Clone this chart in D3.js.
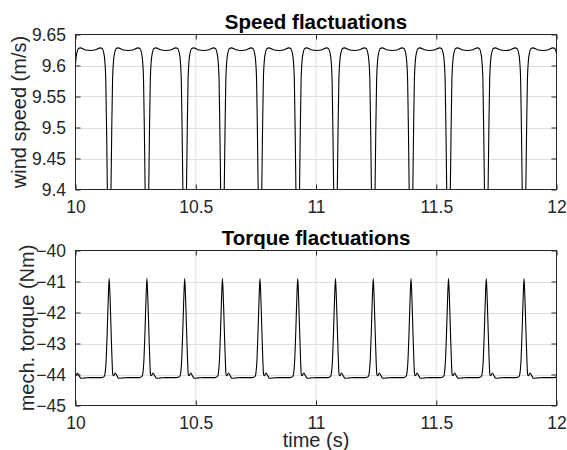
<!DOCTYPE html>
<html>
<head>
  <meta charset="UTF-8">
  <style>
body {
    margin: 0;
    background: #fff;
}
svg text {
    font-family: "Liberation Sans", Arial, sans-serif;
    fill: #262626;
}
.grid line {
    stroke: #dedede;
    stroke-width: 1;
}
.box {
    fill: none;
    stroke: #262626;
    stroke-width: 1;
}
  </style>
</head>
<body>
<svg id="chart"></svg>

<script src="https://d3js.org/d3.v7.min.js"></script>
<script>

// tick labels
const xTicks = [10, 10.5, 11, 11.5, 12];
const speedTicks = [9.4, 9.45, 9.5, 9.55, 9.6, 9.65];
const torqueTicks = [-45, -44, -43, -42, -41, -40];

// times of the dips / spikes (s)
const pulseTimes = [9.983, 10.140, 10.297, 10.454, 10.611, 10.767, 10.924,
                    11.081, 11.238, 11.395, 11.551, 11.708, 11.865, 12.022];

// one period of wind speed around a dip: [offset (s), m/s]
const speedPulse = [
  [-0.078, 9.6242], [-0.055, 9.6255], [-0.037, 9.6285], [-0.029, 9.6275],
  [-0.023, 9.621], [-0.018, 9.607], [-0.014, 9.575], [-0.0105, 9.49],
  [-0.0065, 9.37], [0, 9.25],
  [0.0065, 9.37], [0.0105, 9.49], [0.014, 9.575], [0.018, 9.607],
  [0.023, 9.621], [0.029, 9.6275], [0.037, 9.6285], [0.055, 9.6255]
];

// one period of mech. torque around a spike: [offset (s), Nm]
const torquePulse = [
  [-0.078, -44.10], [-0.032, -44.10], [-0.021, -44.07], [-0.016, -43.9],
  [-0.012, -43.45], [-0.008, -42.6], [-0.004, -41.6], [0, -40.9],
  [0.004, -41.6], [0.008, -42.6], [0.012, -43.55], [0.015, -44.0],
  [0.019, -44.04], [0.025, -43.95], [0.032, -44.04], [0.040, -44.12],
  [0.058, -44.11]
];

function buildSeries(pulse) {
  let pts = [];
  pulseTimes.forEach(t => {
    pulse.forEach(p => pts.push([t + p[0], p[1]]));
  });
  return pts;
}

const speedData = buildSeries(speedPulse);
const torqueData = buildSeries(torquePulse);

let width = 567, height = 450;
let svg = d3.select("#chart")
    .attr("width", width)
    .attr("height", height);

let x = d3.scaleLinear().domain([10, 12]).range([75.5, 556.5]);

function panel(opts) {
  let y = d3.scaleLinear().domain(opts.domain).range([opts.bottom, opts.top]);
  let g = svg.append("g");
  let id = "clip" + opts.name;

  g.append("clipPath").attr("id", id)
    .append("rect")
      .attr("x", x.range()[0]).attr("y", opts.top)
      .attr("width", x.range()[1] - x.range()[0])
      .attr("height", opts.bottom - opts.top);

  // grid
  let grid = g.append("g").attr("class", "grid");
  grid.selectAll(".gx").data(xTicks.slice(1, -1)).enter().append("line")
    .attr("x1", d => x(d)).attr("x2", d => x(d))
    .attr("y1", opts.top).attr("y2", opts.bottom);
  grid.selectAll(".gy").data(opts.ticks.slice(1, -1)).enter().append("line")
    .attr("x1", x.range()[0]).attr("x2", x.range()[1])
    .attr("y1", d => Math.round(y(d)) + 0.5).attr("y2", d => Math.round(y(d)) + 0.5);

  // signal
  g.append("path")
    .datum(opts.data)
    .attr("clip-path", "url(#" + id + ")")
    .attr("fill", "none")
    .attr("stroke", "#000")
    .attr("stroke-width", 1.1)
    .attr("d", d3.line().x(d => x(d[0])).y(d => y(d[1])).curve(d3.curveMonotoneX));

  // axes, ticks inside on all sides
  let tk = 5;
  let bottomAxis = d3.axisBottom(x).tickValues(xTicks).tickSizeInner(-tk).tickSizeOuter(0).tickFormat(d3.format("~g"));
  let topAxis = d3.axisTop(x).tickValues(xTicks).tickSizeInner(-tk).tickSizeOuter(0).tickFormat("");
  let leftAxis = d3.axisLeft(y).tickValues(opts.ticks).tickSizeInner(-tk).tickSizeOuter(0).tickFormat(d3.format("~g"));
  let rightAxis = d3.axisRight(y).tickValues(opts.ticks).tickSizeInner(-tk).tickSizeOuter(0).tickFormat("");

  let ab = g.append("g").attr("transform", "translate(0," + opts.bottom + ")").call(bottomAxis);
  let at = g.append("g").attr("transform", "translate(0," + opts.top + ")").call(topAxis);
  let al = g.append("g").attr("transform", "translate(" + x.range()[0] + ",0)").call(leftAxis);
  let ar = g.append("g").attr("transform", "translate(" + x.range()[1] + ",0)").call(rightAxis);

  [ab, at, al, ar].forEach(a => {
    a.select(".domain").remove();
    a.selectAll("line").attr("stroke", "#262626");
    a.selectAll("text").attr("fill", "#262626")
      .style("font-size", "17.5px")
      .style("font-family", "'Liberation Sans', Arial, sans-serif");
  });
  ab.selectAll("text").attr("dy", null).attr("y", 23);
  al.selectAll("text").attr("x", -9.5).attr("dy", "0.36em");

  g.append("rect").attr("class", "box")
    .attr("x", x.range()[0]).attr("y", opts.top)
    .attr("width", x.range()[1] - x.range()[0])
    .attr("height", opts.bottom - opts.top);

  // title
  g.append("text")
    .attr("x", (x.range()[0] + x.range()[1]) / 2)
    .attr("y", opts.top - 5.5)
    .attr("text-anchor", "middle")
    .style("font-weight", "bold")
    .style("font-size", "20.5px")
    .style("fill", "#000")
    .text(opts.title);

  // y label
  g.append("text")
    .attr("transform", "translate(" + opts.labelX + "," + ((opts.top + opts.bottom) / 2) + ") rotate(-90)")
    .attr("text-anchor", "middle")
    .style("font-size", "20px")
    .text(opts.ylabel);
}

panel({
  name: "speed", top: 34.5, bottom: 189.5,
  domain: [9.4, 9.65], ticks: speedTicks, data: speedData,
  title: "Speed flactuations", ylabel: "wind speed (m/s)", labelX: 26
});

panel({
  name: "torque", top: 250.5, bottom: 405.5,
  domain: [-45, -40], ticks: torqueTicks, data: torqueData,
  title: "Torque flactuations", ylabel: "mech. torque (Nm)", labelX: 34
});

// x label
svg.append("text")
  .attr("x", (x.range()[0] + x.range()[1]) / 2)
  .attr("y", 446.5)
  .attr("text-anchor", "middle")
  .style("font-size", "20px")
  .text("time (s)");

</script>
</body>
</html>
